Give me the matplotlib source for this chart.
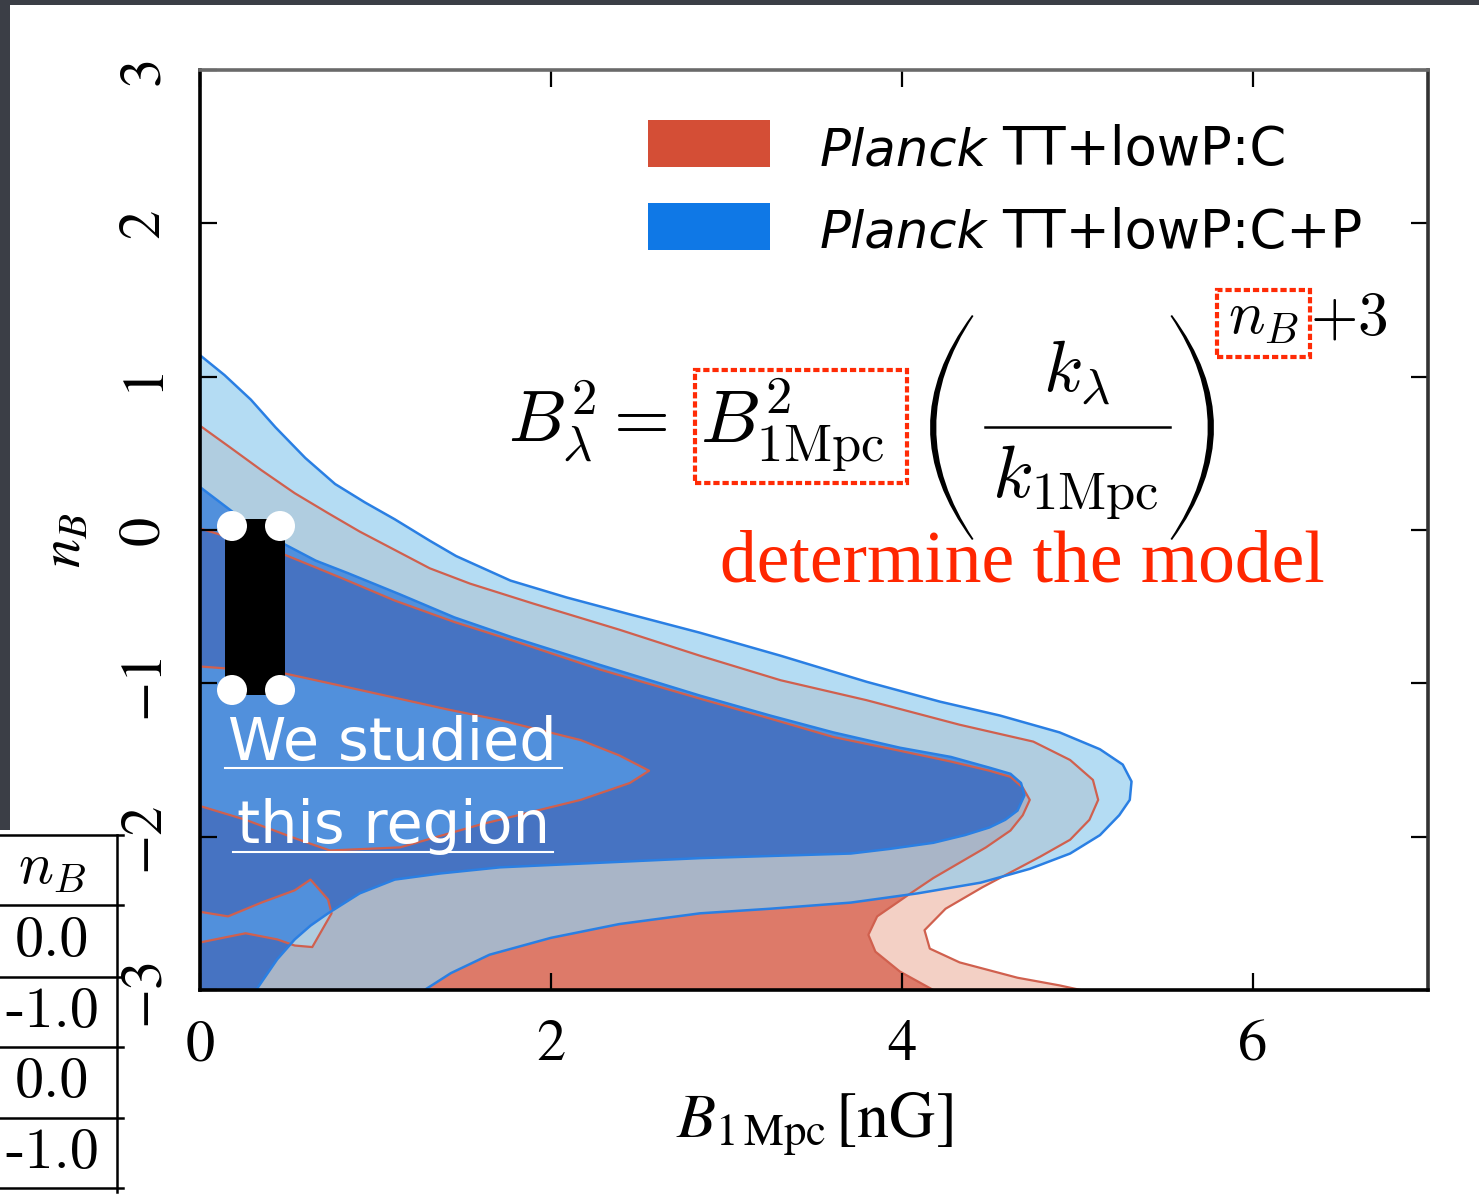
import numpy as np
import matplotlib.pyplot as plt
from matplotlib.patches import Polygon, Rectangle, Circle, PathPatch
from matplotlib.path import Path
from matplotlib.lines import Line2D

plt.rcParams['font.family'] = 'STIXGeneral'
plt.rcParams['mathtext.fontset'] = 'stix'

# contour outlines (B_1Mpc in nG, n_B)
# Planck TT+lowP:C+P, 95% region
blue95_B = [0.00, 0.14, 0.29, 0.43, 0.60, 0.77, 0.94, 1.11, 1.31, 1.46, 1.77, 2.09, 2.45,
            2.85, 3.31, 3.80, 4.22, 4.56, 4.90, 5.13, 5.26, 5.31, 5.30, 5.24, 5.13, 4.96,
            4.73, 4.45, 4.09, 3.71, 3.25, 2.85, 2.39, 2.00, 1.65, 1.43, 1.28, 0.00]
blue95_nB = [1.14, 1.01, 0.85, 0.67, 0.47, 0.30, 0.18, 0.07, -0.07, -0.17, -0.33, -0.44, -0.55,
             -0.67, -0.82, -0.99, -1.12, -1.21, -1.32, -1.43, -1.53, -1.64, -1.76, -1.86, -1.99, -2.11,
             -2.21, -2.30, -2.37, -2.43, -2.47, -2.50, -2.57, -2.66, -2.77, -2.89, -3.00, -3.00]
# Planck TT+lowP:C+P, 68% region
blue68_B = [0.00, 0.23, 0.46, 0.66, 0.84, 1.14, 1.45, 1.78, 2.28, 2.85, 3.25, 3.61, 3.99,
            4.28, 4.50, 4.62, 4.68, 4.70, 4.66, 4.59, 4.50, 4.36, 4.18, 3.93, 3.71, 2.85,
            2.28, 1.71, 1.37, 1.11, 0.91, 0.73, 0.63, 0.54, 0.44, 0.35, 0.32, 0.00]
blue68_nB = [0.28, 0.08, -0.08, -0.20, -0.28, -0.42, -0.57, -0.70, -0.88, -1.08, -1.21, -1.32, -1.42,
             -1.48, -1.55, -1.59, -1.65, -1.73, -1.83, -1.89, -1.94, -1.99, -2.04, -2.08, -2.11, -2.14,
             -2.17, -2.20, -2.24, -2.28, -2.37, -2.50, -2.58, -2.67, -2.80, -2.95, -3.00, -3.00]
# Planck TT+lowP:C, 95% region
red95_B = [0.00, 0.17, 0.35, 0.54, 0.73, 0.91, 1.11, 1.31, 1.54, 1.90, 2.39, 2.85, 3.31,
           3.80, 4.33, 4.75, 4.96, 5.09, 5.12, 5.07, 4.96, 4.79, 4.46, 4.25, 4.13, 4.16,
           4.33, 4.66, 4.90, 5.02, 0.00]
red95_nB = [0.68, 0.54, 0.39, 0.24, 0.11, -0.01, -0.13, -0.25, -0.35, -0.48, -0.65, -0.82, -0.98,
            -1.11, -1.27, -1.38, -1.50, -1.63, -1.76, -1.89, -2.02, -2.13, -2.33, -2.47, -2.61, -2.73,
            -2.82, -2.92, -2.97, -3.00, -3.00]
# Planck TT+lowP:C, 68% region (notched at the left edge)
red68_B = [0.00, 0.23, 0.48, 0.80, 1.11, 1.45, 1.78, 2.28, 2.85, 3.25, 3.61, 3.99, 4.28,
           4.50, 4.62, 4.69, 4.73, 4.69, 4.62, 4.48, 4.33, 4.18, 4.05, 3.86, 3.81, 3.85,
           3.99, 4.18, 0.00, 0.00, 0.26, 0.44, 0.54, 0.64, 0.75, 0.73, 0.63, 0.54, 0.35,
           0.16, 0.00, 0.00, 0.26, 0.54, 0.74, 1.14, 1.60, 2.17, 2.45, 2.56, 2.39, 2.17,
           1.71, 1.41, 0.86, 0.46, 0.00]
red68_nB = [0.01, -0.07, -0.16, -0.31, -0.46, -0.60, -0.72, -0.91, -1.10, -1.23, -1.35, -1.44, -1.51,
            -1.57, -1.61, -1.68, -1.76, -1.86, -1.96, -2.07, -2.17, -2.27, -2.37, -2.52, -2.64, -2.75,
            -2.88, -3.00, -3.00, -2.69, -2.63, -2.67, -2.71, -2.72, -2.50, -2.41, -2.28, -2.35, -2.43,
            -2.52, -2.49, -1.80, -1.89, -2.01, -2.09, -2.07, -1.92, -1.76, -1.65, -1.57, -1.47, -1.37,
            -1.24, -1.17, -1.03, -0.93, -0.89]

legend_labels = ['TT+lowP:C', 'TT+lowP:C+P']
xticks = [0, 2, 4, 6]
yticks = [-3, -2, -1, 0, 1, 2, 3]
table_head = r'$n_B$'
table_vals = ['0.0', '-1.0', '0.0', '-1.0']

W, H = 1479, 1196
fig = plt.figure(figsize=(W / 100, H / 100), dpi=100, facecolor='#3b3e46')
px = fig.dpi_scale_trans


def P(x, y):
    # pixel position (from top-left) -> inches for dpi_scale_trans
    return (x / 100, (H - y) / 100)


# white slide panel
fig.add_artist(Rectangle(P(10, H), (W - 10) / 100, (H - 5) / 100, transform=px,
                         facecolor='white', lw=0, zorder=0))
fig.add_artist(Rectangle(P(0, H), 10 / 100, (H - 830) / 100, transform=px,
                         facecolor='white', lw=0, zorder=0))

ax = fig.add_axes([200 / W, 1 - 990 / H, 1228 / W, 920 / H])
ax.set_facecolor('white')
ax.set_xlim(0, 7)
ax.set_ylim(-3, 3)

c_pink = '#f3d0c5'
c_red = '#dd7a69'
c_lblue = '#b4dcf3'
c_b95r95 = '#b0cde0'
c_grey = '#a9b5c7'
c_b68 = '#5190dc'
c_dblue = '#4673c2'
line_red = '#d0604e'
line_blue = '#2a7fe3'


def clip_to(B, nB):
    return Polygon(np.column_stack([B, nB]), closed=True, transform=ax.transData)


ax.fill(red95_B, red95_nB, color=c_pink, lw=0)
ax.fill(red68_B, red68_nB, color=c_red, lw=0)
ax.fill(blue95_B, blue95_nB, color=c_lblue, lw=0)
p = ax.fill(red95_B, red95_nB, color=c_b95r95, lw=0)[0]
p.set_clip_path(clip_to(blue95_B, blue95_nB))
p = ax.fill(red68_B, red68_nB, color=c_grey, lw=0)[0]
p.set_clip_path(clip_to(blue95_B, blue95_nB))
ax.fill(blue68_B, blue68_nB, color=c_b68, lw=0)
p = ax.fill(red68_B, red68_nB, color=c_dblue, lw=0)[0]
p.set_clip_path(clip_to(blue68_B, blue68_nB))

ax.fill(red95_B, red95_nB, facecolor='none', edgecolor=line_red, lw=1.6, joinstyle='round')
ax.fill(red68_B, red68_nB, facecolor='none', edgecolor=line_red, lw=1.6, joinstyle='round')
ax.fill(blue95_B, blue95_nB, facecolor='none', edgecolor=line_blue, lw=1.8, joinstyle='round')
ax.fill(blue68_B, blue68_nB, facecolor='none', edgecolor=line_blue, lw=1.8, joinstyle='round')

ax.set_xticks(xticks)
ax.set_yticks(yticks)
ax.tick_params(direction='in', length=12, width=1.6, top=True, right=True,
               labelsize=42, color='black')
ax.tick_params(axis='x', pad=22)
ax.tick_params(axis='y', pad=21, labelrotation=90)
for lab in ax.get_yticklabels():
    lab.set_va('center')
for t in ax.xaxis.get_major_ticks() + ax.yaxis.get_major_ticks():
    t.tick2line.set_color('#6a6a6a')
for side in ['left', 'bottom']:
    ax.spines[side].set_linewidth(2.6)
    ax.spines[side].set_color('black')
ax.spines['top'].set_linewidth(2.6)
ax.spines['top'].set_color('#6a6a6a')
ax.spines['right'].set_linewidth(2.6)
ax.spines['right'].set_color('#333333')

ax.set_xlabel(r'$B_{1\,\mathrm{Mpc}}\,[\mathrm{nG}]$', fontsize=46)
ax.xaxis.set_label_coords(0.5, -0.109)
ax.set_ylabel(r'$n_B$', fontsize=42)
ax.yaxis.set_label_coords(-0.087, 0.489)

# legend
leg_colors = ['#d44e36', '#0f78e6']
for i, (lab, col) in enumerate(zip(legend_labels, leg_colors)):
    y0 = 120 + i * 83
    fig.add_artist(Rectangle(P(648, y0 + 47), 122 / 100, 47 / 100, transform=px,
                             facecolor=col, lw=0, zorder=5))
    fig.text(*P(820, y0 + 45), 'Planck', transform=px, fontsize=37, style='italic',
             family='DejaVu Sans', ha='left', va='baseline')
    fig.text(*P(1002, y0 + 45), lab, transform=px, fontsize=38,
             family='DejaVu Sans', ha='left', va='baseline')

# formula
fig.text(*P(508, 443), r'$B^2_\lambda =$', transform=px, fontsize=52,
         math_fontfamily='cm', ha='left', va='baseline')
fig.text(*P(700, 443), r'$B^2_{1\mathrm{Mpc}}$', transform=px, fontsize=54,
         math_fontfamily='cm', ha='left', va='baseline')
fig.text(*P(1077, 392), r'$k_\lambda$', transform=px, fontsize=52,
         math_fontfamily='cm', ha='center', va='baseline')
fig.text(*P(1075, 497), r'$k_{1\mathrm{Mpc}}$', transform=px, fontsize=54,
         math_fontfamily='cm', ha='center', va='baseline')
fig.add_artist(Line2D([985 / 100, 1170 / 100], [(H - 427) / 100] * 2, transform=px,
                      color='black', lw=1.8, zorder=5))
fig.text(*P(1228, 334), r'$n_B$', transform=px, fontsize=44,
         math_fontfamily='cm', ha='left', va='baseline')
fig.text(*P(1310, 334), r'$+3$', transform=px, fontsize=44,
         math_fontfamily='cm', ha='left', va='baseline')


def paren(x_end, x_out, w, y_top, y_bot):
    ym = (y_top + y_bot) / 2
    c_out = 2 * x_out - x_end
    x_in = x_out + w if x_out < x_end else x_out - w
    c_in = 2 * x_in - x_end
    e = 1.5 if x_out < x_end else -1.5
    verts = [P(x_end, y_top), P(c_out, ym), P(x_end, y_bot),
             P(x_end + e, y_bot - 1), P(c_in, ym), P(x_end + e, y_top + 1), P(x_end, y_top)]
    codes = [Path.MOVETO, Path.CURVE3, Path.CURVE3, Path.LINETO,
             Path.CURVE3, Path.CURVE3, Path.CLOSEPOLY]
    fig.add_artist(PathPatch(Path(verts, codes), transform=px, facecolor='black',
                             lw=0, zorder=5))


paren(972, 930, 5.5, 315, 540)
paren(1172, 1214, 5.5, 315, 540)

box_red = '#ff2b06'
fig.add_artist(Rectangle(P(695, 483), 212 / 100, 113 / 100, transform=px, fill=False,
                         edgecolor=box_red, lw=3, linestyle=(0, (1.5, 0.7)), zorder=6))
fig.add_artist(Rectangle(P(1217, 357), 93 / 100, 67 / 100, transform=px, fill=False,
                         edgecolor=box_red, lw=3, linestyle=(0, (1.5, 0.7)), zorder=6))

fig.text(*P(720, 581), 'determine the model', transform=px, fontsize=53,
         family='Liberation Serif', color='#ff2600', ha='left', va='baseline')

# "We studied this region" annotation
fig.add_artist(Rectangle(P(225, 695), 60 / 100, 176 / 100, transform=px,
                         facecolor='black', lw=0, zorder=5))
for cx, cy in [(232, 526), (280, 526), (232, 690), (280, 690)]:
    fig.add_artist(Circle(P(cx, cy), 15 / 100, transform=px, facecolor='white',
                          lw=0, zorder=6))
fig.text(*P(228, 760), 'We studied', transform=px, fontsize=42.5,
         family='DejaVu Sans', color='white', ha='left', va='baseline')
fig.text(*P(237, 843), 'this region', transform=px, fontsize=42.5,
         family='DejaVu Sans', color='white', ha='left', va='baseline')
for x0, x1, yy in [(225, 562, 768), (233, 553, 852)]:
    fig.add_artist(Line2D([x0 / 100, x1 / 100], [(H - yy) / 100] * 2, transform=px,
                          color='white', lw=1.5, zorder=6))

# table in the lower left
row_y = [835, 905, 977, 1047, 1118, 1188]
for yy in row_y:
    fig.add_artist(Line2D([0, 123 / 100], [(H - yy) / 100] * 2, transform=px,
                          color='black', lw=1.8, zorder=6))
fig.add_artist(Line2D([117 / 100] * 2, [(H - 835) / 100, (H - 1192) / 100], transform=px,
                      color='black', lw=1.8, zorder=6))
fig.text(*P(52, 870), table_head, transform=px, fontsize=42, math_fontfamily='cm',
         ha='center', va='center')
for i, v in enumerate(table_vals):
    yc = (row_y[i + 1] + row_y[i + 2]) / 2
    fig.text(*P(52, yc), v, transform=px, fontsize=42, family='cmr10',
             ha='center', va='center')

fig.savefig('out.png', dpi=100, facecolor=fig.get_facecolor())
